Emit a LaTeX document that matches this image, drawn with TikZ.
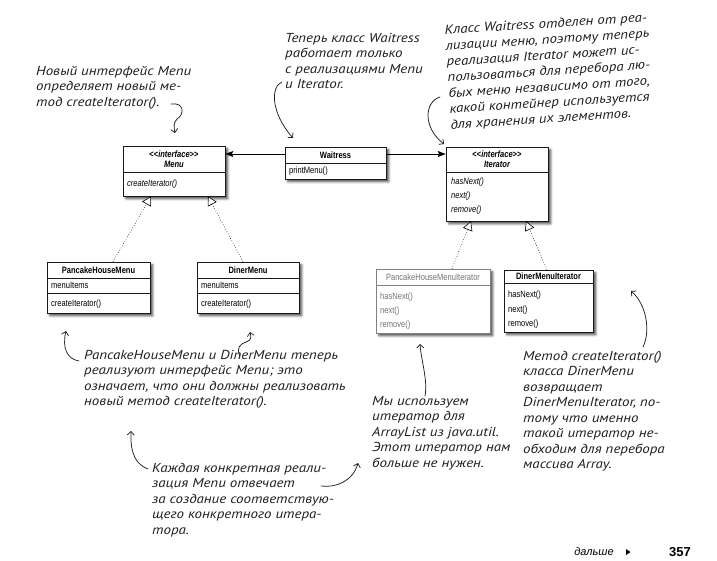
\documentclass[tikz,border=0pt]{standalone}
\usepackage{fontspec}
\setmainfont{Liberation Sans}
\newfontfamily\umlfont[FakeStretch=0.82]{Liberation Sans}
\newfontfamily\handfont[FakeStretch=1.15]{PT Sans}
\usetikzlibrary{arrows.meta,shadows.blur,calc}
\newcommand{\stereo}[1]{<\kern0pt<\textit{#1}>\kern0pt>}
\newcommand{\handtext}{\handfont\itshape\fontsize{13}{15.5}\selectfont}
\tikzset{
  umlbox/.style={draw=black!90, line width=0.6pt, fill=white, inner sep=0pt,
    blur shadow={shadow xshift=2.8pt, shadow yshift=-2.8pt,
      shadow blur radius=2.2pt, shadow opacity=70}},
  oldbox/.style={umlbox, draw=black!50, line width=0.45pt},
  sep/.style={draw=black!90, line width=0.5pt},
  oldsep/.style={draw=black!50, line width=0.4pt},
  umlhead/.style={inner sep=0pt, font={\umlfont\bfseries\fontsize{9.2}{11}\selectfont}},
  umlitem/.style={inner sep=0pt, anchor=west, font={\umlfont\fontsize{9.2}{11}\selectfont}},
  oldtext/.style={text=black!55},
  assoc/.style={line width=0.7pt, -{Stealth[length=8pt,width=6pt,inset=1.5pt]}},
  realize/.style={dotted, line width=0.6pt, -{Triangle[open,length=9pt,width=10pt,fill=white]}},
  note/.style={font=\handtext, align=left, inner sep=0pt, anchor=north west, text=black!88},
  pen/.style={line width=0.75pt, draw=black!88, line cap=round,
    -{Straight Barb[length=3.5pt,width=7pt]}}
}
\begin{document}
\begin{tikzpicture}[x=1pt,y=-1pt]
\useasboundingbox (0,0) rectangle (717,560);

% ---- interface Menu
\node[umlbox, minimum width=102pt, minimum height=50pt] (menu) at (174,171) {};
\draw[sep] (menu.west |- 0,172) -- (menu.east |- 0,172);
\node[umlhead] (menuS) at (174,154) {\stereo{interface}};
\node[umlhead] (menuN) at (174,164) {\itshape Menu};
\node[umlitem] (menuM) at (127,184) {\itshape createIterator()};

% ---- Waitress
\node[umlbox, minimum width=101pt, minimum height=32pt] (waitress) at (335.5,163) {};
\draw[sep] (waitress.west |- 0,163) -- (waitress.east |- 0,163);
\node[umlhead] (waitN) at (335.5,155) {Waitress};
\node[umlitem] (waitM) at (289,171.5) {printMenu()};

% ---- interface Iterator
\node[umlbox, minimum width=102pt, minimum height=74pt] (iterator) at (497,184) {};
\draw[sep] (iterator.west |- 0,172) -- (iterator.east |- 0,172);
\node[umlhead] (iterS) at (497,154) {\stereo{interface}};
\node[umlhead] (iterN) at (497,164) {\itshape Iterator};
\node[umlitem] (iterM1) at (451,182) {\itshape hasNext()};
\node[umlitem] (iterM2) at (451,196) {\itshape next()};
\node[umlitem] (iterM3) at (451,210) {\itshape remove()};

% ---- PancakeHouseMenu
\node[umlbox, minimum width=103pt, minimum height=51pt] (phm) at (98.5,287.5) {};
\draw[sep] (phm.west |- 0,278) -- (phm.east |- 0,278);
\draw[sep] (phm.west |- 0,293) -- (phm.east |- 0,293);
\node[umlhead] (phmN) at (98.5,270) {PancakeHouseMenu};
\node[umlitem] (phmA) at (51,285.5) {menuItems};
\node[umlitem] (phmM) at (51,304) {createIterator()};

% ---- DinerMenu
\node[umlbox, minimum width=102pt, minimum height=51pt] (diner) at (248,287.5) {};
\draw[sep] (diner.west |- 0,278) -- (diner.east |- 0,278);
\draw[sep] (diner.west |- 0,293) -- (diner.east |- 0,293);
\node[umlhead] (dinerN) at (248,270) {DinerMenu};
\node[umlitem] (dinerA) at (201,285.5) {menuItems};
\node[umlitem] (dinerM) at (201,304) {createIterator()};

% ---- PancakeHouseMenuIterator (no longer needed)
\node[oldbox, minimum width=114pt, minimum height=64pt] (phmi) at (433,301) {};
\draw[oldsep] (phmi.west |- 0,285) -- (phmi.east |- 0,285);
\node[umlitem, oldtext, anchor=center] (phmiN) at (433,277) {PancakeHouseMenuIterator};
\node[umlitem, oldtext] (phmiM1) at (380,297) {hasNext()};
\node[umlitem, oldtext] (phmiM2) at (380,311) {next()};
\node[umlitem, oldtext] (phmiM3) at (380,325) {remove()};

% ---- DinerMenuIterator
\node[umlbox, minimum width=89pt, minimum height=62pt] (dmi) at (548.5,301) {};
\draw[sep] (dmi.west |- 0,283) -- (dmi.east |- 0,283);
\node[umlhead] (dmiN) at (548.5,276) {DinerMenuIterator};
\node[umlitem] (dmiM1) at (508,295) {hasNext()};
\node[umlitem] (dmiM2) at (508,310) {next()};
\node[umlitem] (dmiM3) at (508,324) {remove()};

% ---- associations from Waitress
\coordinate (wl) at ([yshift=9pt]waitress.west);
\coordinate (wr) at ([yshift=9pt]waitress.east);
\draw[assoc] (wl) -- (wl -| menu.east);
\draw[assoc] (wr) -- (wr -| iterator.west);

% ---- realizations
\draw[realize] ([xshift=14.5pt]phm.north) -- ([xshift=-23pt]menu.south);
\draw[realize] ([xshift=-5pt]diner.north) -- ([xshift=34pt]menu.south);
\draw[realize] ([xshift=19pt]phmi.north) -- ([xshift=-26pt]iterator.south);
\draw[realize] ([xshift=-1.5pt]dmi.north) -- ([xshift=29pt]iterator.south);

% ---- handwritten notes
\node[note] (n1) at (36,66) {Новый интерфейс Menu\\определяет новый ме-\\тод createIterator().};
\node[note] (n2) at (285,33) {Теперь класс Waitress\\работает только\\с реализациями Menu\\и Iterator.};
\node[note, rotate=3.6, font={\handfont\itshape\fontsize{13}{15.8}\selectfont}] (n3) at (444,25) {Класс Waitress отделен от реа-\\лизации меню, поэтому теперь\\реализация Iterator может ис-\\пользоваться для перебора лю-\\бых меню независимо от того,\\какой контейнер используется\\для хранения их элементов.};
\node[note] (n4) at (84,350) {PancakeHouseMenu и DinerMenu теперь\\реализуют интерфейс Menu; это\\означает, что они должны реализовать\\новый метод createIterator().};
\node[note] (n5) at (152,463) {Каждая конкретная реали-\\зация Menu отвечает\\за создание соответствую-\\щего конкретного итера-\\тора.};
\node[note] (n6) at (372,396) {Мы используем\\итератор для\\ArrayList из java.util.\\Этот итератор нам\\больше не нужен.};
\node[note] (n7) at (523,351) {Метод createIterator()\\класса DinerMenu\\возвращает\\DinerMenuIterator, по-\\тому что именно\\такой итератор не-\\обходим для перебора\\массива Array.};

% ---- pen arrows
\coordinate (a1s) at (171,104); \coordinate (a1e) at (175,133);
\draw[pen] (a1s) .. controls (184,102) and (185,114) .. (177,119) .. controls (173,123) and (174,128) .. (a1e);
\coordinate (a2s) at (282,82); \coordinate (a2e) at (293,138);
\draw[pen] (a2s) .. controls (271,86) and (270,112) .. (a2e);
\coordinate (a3s) at (440,97); \coordinate (a3e) at (444,144);
\draw[pen] (a3s) .. controls (424,102) and (423,128) .. (a3e);
\coordinate (a4s) at (79,361); \coordinate (a4e) at (66,331);
\draw[pen] (a4s) .. controls (67,359) and (62,348) .. (a4e);
\coordinate (a4bs) at (240,356); \coordinate (a4be) at (250,332);
\draw[pen] (a4bs) .. controls (236,348) and (240,344) .. (246,342) .. controls (252,340) and (251,337) .. (a4be);
\coordinate (a5s) at (148,469); \coordinate (a5e) at (131,431);
\draw[pen] (a5s) .. controls (137,465) and (130,455) .. (a5e);
\coordinate (a5bs) at (321,486); \coordinate (a5be) at (358,463);
\draw[pen] (a5bs) .. controls (336,488) and (353,481) .. (a5be);
\coordinate (a6s) at (425,396); \coordinate (a6e) at (420,344);
\draw[pen] (a6s) .. controls (428,380) and (421,360) .. (a6e);
\coordinate (a7s) at (643,347); \coordinate (a7e) at (631,291);
\draw[pen] (a7s) .. controls (651,330) and (646,304) .. (a7e);

% ---- page footer
\node[inner sep=0pt, font=\itshape\fontsize{11}{13}\selectfont] (nxt) at (594,552) {дальше};
\coordinate (tri) at (628,552);
\fill[black] ([xshift=-2pt,yshift=3pt]tri) -- ([xshift=2.5pt]tri) -- ([xshift=-2pt,yshift=-3pt]tri) -- cycle;
\node[inner sep=0pt, font=\bfseries\fontsize{13}{15}\selectfont] (pg) at (680,552) {357};
\end{tikzpicture}
\end{document}
